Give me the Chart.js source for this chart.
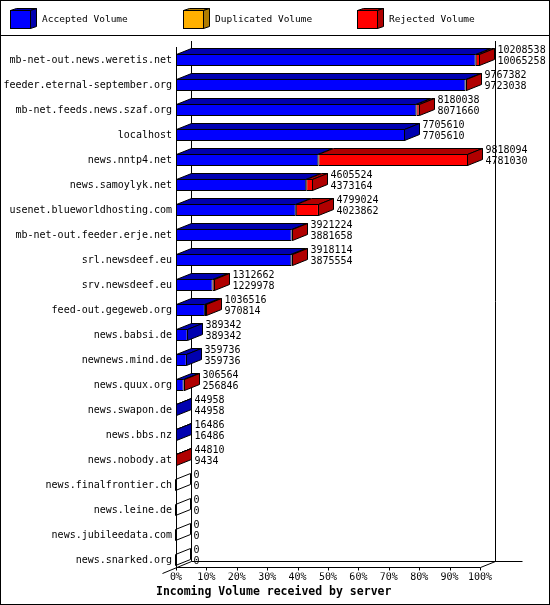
<!DOCTYPE html>
<html>
<head>
<meta charset="utf-8">
<script src="https://cdn.jsdelivr.net/npm/chart.js@4/dist/chart.umd.min.js"></script>
<style>
  html, body { margin: 0; padding: 0; background: #fff; }
  canvas { display: block; }
</style>
</head>
<body>
<canvas id="chart" width="550" height="605"></canvas>
<script>
// servers, top to bottom
const categories = [
  'mb-net-out.news.weretis.net', 'feeder.eternal-september.org', 'mb-net.feeds.news.szaf.org',
  'localhost', 'news.nntp4.net', 'news.samoylyk.net', 'usenet.blueworldhosting.com',
  'mb-net-out.feeder.erje.net', 'srl.newsdeef.eu', 'srv.newsdeef.eu', 'feed-out.gegeweb.org',
  'news.babsi.de', 'newnews.mind.de', 'news.quux.org', 'news.swapon.de', 'news.bbs.nz',
  'news.nobody.at', 'news.finalfrontier.ch', 'news.leine.de', 'news.jubileedata.com', 'news.snarked.org'
];
const accepted = [10065258, 9723038, 8071660, 7705610, 4781030, 4373164, 4023862, 3881658, 3875554,
  1229978, 970814, 389342, 359736, 256846, 44958, 16486, 9434, 0, 0, 0, 0];
const duplicated = [0, 0, 0, 0, 0, 0, 0, 0, 0, 0, 0, 0, 0, 0, 0, 0, 0, 0, 0, 0, 0];
const rejected = [143280, 44344, 108378, 0, 5037064, 232360, 775162, 39566, 42560,
  82684, 65702, 0, 0, 49718, 0, 0, 35376, 0, 0, 0, 0];
const tickPercents = [0, 10, 20, 30, 40, 50, 60, 70, 80, 90, 100];

const seriesNames = ['Accepted Volume', 'Duplicated Volume', 'Rejected Volume'];
const frontColors = ['#0000ff', '#ffb000', '#ff0000'];
const darkColors = ['#0000b0', '#b07c00', '#b00000'];

const totals = categories.map((c, i) => accepted[i] + duplicated[i] + rejected[i]);
const maxTotal = Math.max(...totals);

const DX = 15, DY = 6;
const MONO = '"DejaVu Sans Mono", "Liberation Mono", monospace';

function poly(ctx, pts, fill) {
  ctx.beginPath();
  ctx.moveTo(pts[0][0], pts[0][1]);
  for (let k = 1; k < pts.length; k++) ctx.lineTo(pts[k][0], pts[k][1]);
  ctx.closePath();
  if (fill) { ctx.fillStyle = fill; ctx.fill(); }
  ctx.stroke();
}
function line(ctx, x1, y1, x2, y2) {
  ctx.beginPath(); ctx.moveTo(x1, y1); ctx.lineTo(x2, y2); ctx.stroke();
}

const threeD = {
  id: 'threeD',
  beforeDraw(chart) {
    const ctx = chart.ctx;
    ctx.save();
    ctx.fillStyle = '#fff';
    ctx.fillRect(0, 0, chart.width, chart.height);
    ctx.restore();
  },
  beforeDatasetsDraw(chart) {
    // walls and floor of the 3d box
    const ctx = chart.ctx, a = chart.chartArea, xs = chart.scales.x;
    const x0 = Math.round(xs.getPixelForValue(0)) + 0.5;
    const x1 = Math.round(xs.getPixelForValue(maxTotal)) + 0.5;
    const floorY = Math.round(a.bottom - 6) + 0.5;
    const topY = Math.round(a.top - 7);
    ctx.save();
    ctx.strokeStyle = '#000';
    ctx.lineWidth = 1;
    line(ctx, x0 + DX, topY, x0 + DX, floorY - DY);
    line(ctx, x1 + DX, topY, x1 + DX, floorY - DY);
    line(ctx, x0, topY + DY, x0, floorY);
    line(ctx, x0 + DX, floorY - DY, x1 + DX + 27, floorY - DY);
    line(ctx, x0, floorY, x1, floorY);
    line(ctx, x1, floorY, x1 + DX, floorY - DY);
    line(ctx, x0 - 14, floorY + 6, x0 + DX, floorY - DY);
    tickPercents.forEach(p => {
      const x = Math.round(xs.getPixelForValue(p / 100 * maxTotal)) + 0.5;
      line(ctx, x, floorY, x, floorY + 3);
    });
    ctx.restore();
  },
  afterDatasetsDraw(chart) {
    const ctx = chart.ctx, xs = chart.scales.x;
    const metas = chart.data.datasets.map((d, i) => chart.getDatasetMeta(i));
    ctx.save();
    ctx.strokeStyle = '#000';
    ctx.lineWidth = 1;
    categories.forEach((c, i) => {
      const ref = metas[0].data[i];
      const top = Math.round(ref.y - ref.height / 2) + 0.5;
      const bottom = Math.round(ref.y + ref.height / 2) - 0.5;
      let endX = Math.round(xs.getPixelForValue(0)) - 0.5;
      let endCol = null;
      metas.forEach((m, di) => {
        const el = m.data[i];
        const l = Math.round(Math.min(el.x, el.base));
        let r = Math.round(Math.max(el.x, el.base));
        const v = chart.data.datasets[di].data[i];
        if (v > 0 && r <= l) r = l + 1;
        if (r - l > 0) {
          poly(ctx, [[l + 0.5, top], [r - 0.5, top], [r - 0.5 + DX, top - DY], [l + 0.5 + DX, top - DY]], darkColors[di]);
          endX = r - 0.5;
          endCol = darkColors[di];
        }
      });
      poly(ctx, [[endX, top], [endX + DX, top - DY], [endX + DX, bottom - DY], [endX, bottom]], endCol);
      ctx.fillStyle = '#000';
      ctx.font = '10px ' + MONO;
      ctx.textAlign = 'left';
      ctx.textBaseline = 'middle';
      ctx.fillText(String(totals[i]), endX + 18, ref.y - 10);
      ctx.fillText(String(accepted[i]), endX + 18, ref.y + 1);
    });
    ctx.restore();
  },
  afterDraw(chart) {
    const ctx = chart.ctx;
    ctx.save();
    ctx.strokeStyle = '#000';
    ctx.lineWidth = 1;
    ctx.strokeRect(0.5, 0.5, chart.width - 1, chart.height - 1);
    line(ctx, 0, 35.5, chart.width, 35.5);
    // legend with 3d boxes
    const legendX = [10, 183, 357];
    chart.data.datasets.forEach((ds, di) => {
      const x = legendX[di] + 0.5, y = 10.5;
      ctx.fillStyle = frontColors[di];
      ctx.fillRect(x, y, 20, 18);
      ctx.strokeRect(x, y, 20, 18);
      poly(ctx, [[x, y], [x + 6, y - 2], [x + 26, y - 2], [x + 20, y]], darkColors[di]);
      poly(ctx, [[x + 20, y], [x + 26, y - 2], [x + 26, y + 16], [x + 20, y + 18]], darkColors[di]);
      ctx.fillStyle = '#000';
      ctx.font = '9.5px ' + MONO;
      ctx.textAlign = 'left';
      ctx.textBaseline = 'middle';
      ctx.fillText(ds.label, legendX[di] + 32, 20);
    });
    ctx.font = 'bold 11.5px ' + MONO;
    ctx.fillText('Incoming Volume received by server', 156, 592);
    ctx.restore();
  }
};

const datasets = [accepted, duplicated, rejected].map((vals, di) => ({
  label: seriesNames[di],
  data: vals,
  backgroundColor: frontColors[di],
  borderColor: '#000',
  borderWidth: 1,
  borderSkipped: false,
  inflateAmount: 0,
  barThickness: 12
}));

new Chart(document.getElementById('chart'), {
  type: 'bar',
  data: { labels: categories, datasets: datasets },
  options: {
    indexAxis: 'y',
    responsive: false,
    animation: false,
    devicePixelRatio: 1,
    layout: { padding: { top: 47.5, right: 70, bottom: 0, left: 0 } },
    plugins: { legend: { display: false }, tooltip: { enabled: false } },
    scales: {
      x: {
        stacked: true,
        min: 0,
        max: maxTotal,
        grid: { display: false, drawTicks: false },
        border: { display: false },
        afterBuildTicks: s => { s.ticks = tickPercents.map(p => ({ value: p / 100 * maxTotal })); },
        afterFit: s => { s.height = 32.5; },
        ticks: {
          color: '#000',
          font: { family: MONO, size: 10 },
          padding: -1,
          maxRotation: 0,
          autoSkip: false,
          callback: (v, idx) => tickPercents[idx] + '%'
        }
      },
      y: {
        stacked: true,
        grid: { display: false, drawTicks: false },
        border: { display: false },
        afterFit: s => { s.width = 176; },
        ticks: {
          color: '#000',
          font: { family: MONO, size: 10 },
          padding: 4,
          autoSkip: false
        }
      }
    }
  },
  plugins: [threeD]
});
</script>
</body>
</html>
